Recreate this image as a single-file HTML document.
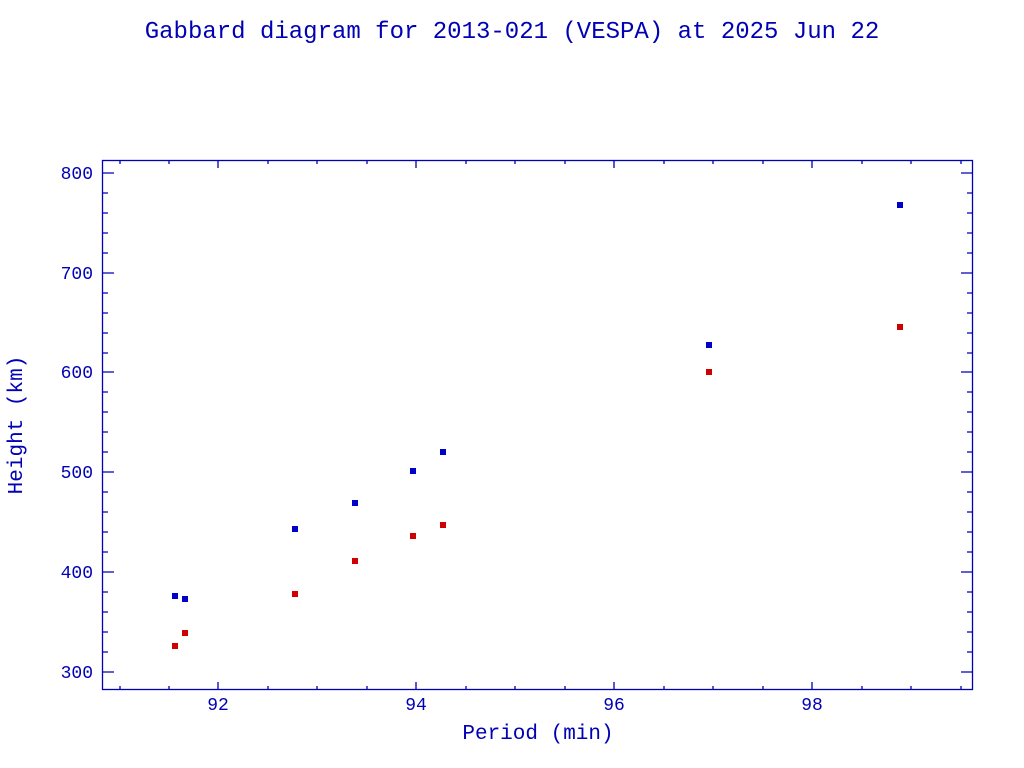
<!DOCTYPE html>
<html><head><style>
html,body{margin:0;padding:0;background:#fff;}
</style></head><body>
<svg width="1024" height="768" xmlns="http://www.w3.org/2000/svg" style="display:block">
<rect width="1024" height="768" fill="#fff"/>
<g font-family="Liberation Mono, monospace" fill="#0000b4">
<text x="512" y="38" font-size="24" text-anchor="middle">Gabbard diagram for 2013-021 (VESPA) at 2025 Jun 22</text>
<text x="538" y="739" font-size="21" text-anchor="middle">Period (min)</text>
<text transform="translate(22,425) rotate(-90)" font-size="21" text-anchor="middle">Height (km)</text>
<g font-size="18" text-anchor="end">
<text x="93" y="179">800</text><text x="93" y="279">700</text><text x="93" y="378">600</text>
<text x="93" y="478">500</text><text x="93" y="578">400</text><text x="93" y="678">300</text>
</g>
<g font-size="18" text-anchor="middle">
<text x="218" y="710">92</text><text x="416" y="710">94</text><text x="614" y="710">96</text><text x="812" y="710">98</text>
</g>
</g>
<g stroke="#0000b4" stroke-width="1.3" fill="none">
<rect x="102.5" y="160.5" width="870" height="529"/>
<path d="
M102 173h12M102 273h12M102 372h12M102 472h12M102 572h12M102 672h12
M973 173h-12M973 273h-12M973 372h-12M973 472h-12M973 572h-12M973 672h-12
M102 193h6M102 213h6M102 233h6M102 253h6M102 293h6M102 313h6M102 333h6M102 353h6M102 392h6M102 412h6M102 432h6M102 452h6M102 492h6M102 512h6M102 532h6M102 552h6M102 592h6M102 612h6M102 632h6M102 652h6
M973 193h-6M973 213h-6M973 233h-6M973 253h-6M973 293h-6M973 313h-6M973 333h-6M973 353h-6M973 392h-6M973 412h-6M973 432h-6M973 452h-6M973 492h-6M973 512h-6M973 532h-6M973 552h-6M973 592h-6M973 612h-6M973 632h-6M973 652h-6
M218 690v-8M416 690v-8M614 690v-8M812 690v-8
M218 160v8M416 160v8M614 160v8M812 160v8
M120 690v-4M169 690v-4M268 690v-4M317 690v-4M367 690v-4M466 690v-4M515 690v-4M565 690v-4M664 690v-4M713 690v-4M763 690v-4M862 690v-4M911 690v-4M961 690v-4
M120 160v4M169 160v4M268 160v4M317 160v4M367 160v4M466 160v4M515 160v4M565 160v4M664 160v4M713 160v4M763 160v4M862 160v4M911 160v4M961 160v4"/>
</g>
<g fill="#0000c8">
<rect x="172" y="593" width="6" height="6"/><rect x="182" y="596" width="6" height="6"/>
<rect x="292" y="526" width="6" height="6"/><rect x="352" y="500" width="6" height="6"/>
<rect x="410" y="468" width="6" height="6"/><rect x="440" y="449" width="6" height="6"/>
<rect x="706" y="342" width="6" height="6"/><rect x="897" y="202" width="6" height="6"/>
</g>
<g fill="#d00000">
<rect x="172" y="643" width="6" height="6"/><rect x="182" y="630" width="6" height="6"/>
<rect x="292" y="591" width="6" height="6"/><rect x="352" y="558" width="6" height="6"/>
<rect x="410" y="533" width="6" height="6"/><rect x="440" y="522" width="6" height="6"/>
<rect x="706" y="369" width="6" height="6"/><rect x="897" y="324" width="6" height="6"/>
</g>
</svg>
</body></html>
